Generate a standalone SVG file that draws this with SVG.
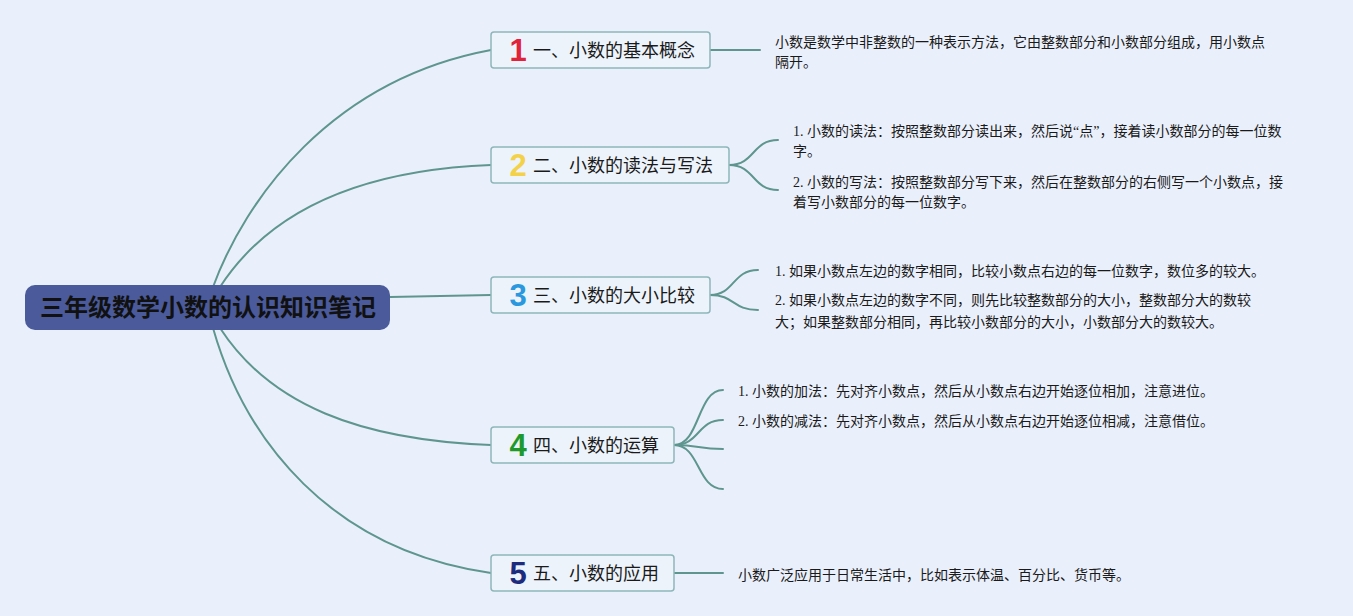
<svg xmlns="http://www.w3.org/2000/svg" width="1353" height="616" viewBox="0 0 1353 616">
<style>
.bg{fill:#EAF0FB}
.ln{fill:none;stroke:#5E968F;stroke-width:2;stroke-linecap:round}
.box{fill:#EDF3FA;stroke:#8DB6BA;stroke-width:1.5}
.nt{font-family:"Noto Sans CJK SC","Noto Sans",sans-serif;font-size:18px;fill:#1a1a1a}
.num{font-family:"Liberation Sans","DejaVu Sans",sans-serif;font-size:31px;font-weight:bold;text-anchor:middle}
.tx{font-family:"Liberation Serif","Noto Sans CJK SC",serif;font-size:14px;fill:#1a1a1a}
.root{font-family:"Noto Sans CJK SC","Noto Sans",sans-serif;font-size:24px;font-weight:bold;fill:#111;text-anchor:middle}
</style>
<rect class="bg" x="0" y="0" width="1353" height="616"/>
<g id="connectors">
<path class="ln" d="M213,287 C245,200 330,80 491,50"/>
<path class="ln" d="M220,287 C270,210 360,170 491,165"/>
<path class="ln" d="M390,297 L491,295"/>
<path class="ln" d="M220,328 C270,405 360,440 491,445"/>
<path class="ln" d="M213,328 C245,440 330,550 491,573"/>
<path class="ln" d="M710,50 L760,50"/>
<path class="ln" d="M729,165 C755,165 752,140 778,140"/>
<path class="ln" d="M729,165 C755,165 752,190 778,190"/>
<path class="ln" d="M710,295 C735,295 732,270 758,270"/>
<path class="ln" d="M710,295 C735,295 732,310 758,310"/>
<path class="ln" d="M674,445 C700,445 697,390 723,390"/>
<path class="ln" d="M674,445 C700,445 697,420 723,420"/>
<path class="ln" d="M674,445 C700,445 697,449 723,449"/>
<path class="ln" d="M674,445 C700,445 697,489 723,489"/>
<path class="ln" d="M674,573 L723,573"/>
</g>
<g id="root">
<rect x="25" y="285" width="365" height="45" rx="10" fill="#4A5A9B"/>
<text class="root" x="208" y="316">三年级数学小数的认识知识笔记</text>
</g>
<g id="node1">
<rect class="box" x="491" y="32" width="219" height="36" rx="3"/>
<text class="num" x="518" y="61" fill="#E0223A">1</text>
<text class="nt" x="533" y="57">一、小数的基本概念</text>
</g>
<g id="node2">
<rect class="box" x="491" y="147" width="238" height="36" rx="3"/>
<text class="num" x="518" y="176" fill="#F3D24A">2</text>
<text class="nt" x="533" y="172">二、小数的读法与写法</text>
</g>
<g id="node3">
<rect class="box" x="491" y="277" width="219" height="36" rx="3"/>
<text class="num" x="518" y="306" fill="#2A98DE">3</text>
<text class="nt" x="533" y="302">三、小数的大小比较</text>
</g>
<g id="node4">
<rect class="box" x="491" y="427" width="183" height="36" rx="3"/>
<text class="num" x="518" y="456" fill="#1E9A2C">4</text>
<text class="nt" x="533" y="452">四、小数的运算</text>
</g>
<g id="node5">
<rect class="box" x="491" y="555" width="183" height="36" rx="3"/>
<text class="num" x="518" y="584" fill="#1C2B7E">5</text>
<text class="nt" x="533" y="580">五、小数的应用</text>
</g>
<g id="details">
<text class="tx" x="775" y="47">小数是数学中非整数的一种表示方法，它由整数部分和小数部分组成，用小数点</text>
<text class="tx" x="775" y="67">隔开。</text>
<text class="tx" x="793" y="136">1. 小数的读法：按照整数部分读出来，然后说“点”，接着读小数部分的每一位数</text>
<text class="tx" x="793" y="156">字。</text>
<text class="tx" x="793" y="187">2. 小数的写法：按照整数部分写下来，然后在整数部分的右侧写一个小数点，接</text>
<text class="tx" x="793" y="207">着写小数部分的每一位数字。</text>
<text class="tx" x="775" y="276">1. 如果小数点左边的数字相同，比较小数点右边的每一位数字，数位多的较大。</text>
<text class="tx" x="775" y="305">2. 如果小数点左边的数字不同，则先比较整数部分的大小，整数部分大的数较</text>
<text class="tx" x="775" y="327">大；如果整数部分相同，再比较小数部分的大小，小数部分大的数较大。</text>
<text class="tx" x="738" y="396">1. 小数的加法：先对齐小数点，然后从小数点右边开始逐位相加，注意进位。</text>
<text class="tx" x="738" y="426">2. 小数的减法：先对齐小数点，然后从小数点右边开始逐位相减，注意借位。</text>
<text class="tx" x="738" y="580">小数广泛应用于日常生活中，比如表示体温、百分比、货币等。</text>
</g>
</svg>
